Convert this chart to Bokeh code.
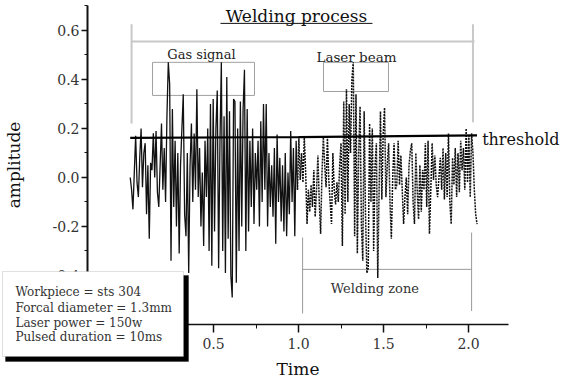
from bokeh.plotting import figure
from bokeh.models import Range1d, FixedTicker, NumeralTickFormatter, Label, BoxAnnotation
from bokeh.embed import file_html
from bokeh.resources import INLINE

# ---------------- data ----------------
SAMPLE_T0 = 0.01      # time of first sample
SAMPLE_DT = 0.008     # sampling interval

gas_amplitude = [
    0.0, -0.05, -0.13, 0.02, 0.17, -0.02, -0.08, 0.08, 0.20, -0.04,
    0.10, 0.14, -0.15, 0.05, -0.25, 0.06, 0.03, 0.18, 0.0, 0.19,
    -0.06, -0.12, 0.05, 0.22, -0.05, 0.12, -0.10, 0.25, 0.47, 0.38,
    -0.34, 0.28, -0.12, 0.15, -0.20, 0.10, -0.31, 0.05, 0.20, 0.34,
    -0.15, -0.24, 0.10, -0.39, 0.05, 0.22, -0.10, 0.18, -0.05, 0.36,
    -0.08, 0.12, -0.20, 0.02, -0.28, 0.15, -0.08, 0.20, -0.30, 0.30,
    -0.36, 0.32, -0.22, 0.20, 0.355, -0.37, 0.15, 0.47, -0.30, 0.25,
    -0.39, 0.41, -0.25, 0.27, -0.40, -0.49, 0.32, 0.31, -0.43, 0.20,
    -0.30, 0.31, -0.20, 0.28, 0.44, -0.30, 0.28, -0.22, 0.15, -0.12,
    0.20, -0.19, 0.10, -0.05, 0.15, -0.20, 0.23, -0.10, 0.30, -0.05,
    0.30, -0.20, 0.10, -0.12, 0.05, -0.16, 0.12, -0.27, 0.175, -0.10,
    0.08, -0.18, 0.05, -0.22, 0.10, -0.24, 0.02, -0.15, 0.19, -0.10,
    0.12, -0.24, 0.15, -0.05,
]

laser_amplitude = [
    0.16, -0.01, 0.10, -0.02, 0.165, 0.02, -0.19, -0.05, -0.14, -0.03,
    -0.12, 0.03, -0.16, -0.05, 0.09, -0.10, -0.23, 0.02, 0.165, 0.05,
    -0.04, 0.165, -0.01, -0.10, -0.19, 0.10, -0.05, -0.11, -0.02, -0.10,
    0.05, 0.14, -0.28, 0.31, -0.15, 0.36, -0.10, 0.30, 0.10, 0.40,
    0.47, -0.24, 0.34, -0.31, 0.10, 0.29, -0.20, -0.34, 0.27, -0.15,
    -0.39, -0.37, 0.22, -0.10, 0.20, -0.30, 0.05, 0.14, -0.41, -0.05,
    0.27, -0.09, 0.18, 0.285, -0.08, 0.05, 0.14, -0.10, -0.25, 0.0,
    0.14, -0.05, -0.03, 0.15, -0.03, 0.09, -0.05, -0.19, -0.08, 0.0,
    -0.15, 0.05, 0.11, 0.14, -0.10, -0.19, 0.10, -0.05, -0.17, 0.05,
    -0.14, 0.03, -0.05, 0.14, -0.12, 0.15, -0.23, -0.05, 0.14, -0.01,
    0.09, -0.03, -0.08, 0.0, 0.08, -0.05, 0.12, -0.09, 0.10, -0.08,
    0.18, -0.10, -0.19, 0.08, -0.03, 0.12, -0.08, 0.10, -0.06, 0.15,
    0.03, 0.12, -0.05, 0.20, -0.02, 0.17, -0.08, 0.18, 0.10, -0.05,
    -0.15, -0.19,
]

threshold_time = [0.01, 1.0, 2.05]
threshold_amp = [0.162, 0.165, 0.172]

x_major_ticks = [0.0, 0.5, 1.0, 1.5, 2.0]
x_minor_ticks = [0.25, 0.75, 1.25, 1.75]
y_major_ticks = [-0.6, -0.4, -0.2, 0.0, 0.2, 0.4, 0.6]
y_minor_ticks = [-0.5, -0.3, -0.1, 0.1, 0.3, 0.5, 0.7]

info_lines = [
    "Workpiece = sts 304",
    "Forcal diameter = 1.3mm",
    "Laser power = 150w",
    "Pulsed duration = 10ms",
]

# ---------------- build ----------------
n_gas = len(gas_amplitude)
gas_time = [SAMPLE_T0 + i * SAMPLE_DT for i in range(n_gas)]
laser_time = [SAMPLE_T0 + (n_gas - 1 + i) * SAMPLE_DT for i in range(len(laser_amplitude) + 1)]
laser_vals = [gas_amplitude[-1]] + laser_amplitude

SERIF = "DejaVu Serif"
X_AXIS_AT = -0.6       # y value where the time axis sits
Y_AXIS_AT = -0.2412    # x value where the amplitude axis sits

p = figure(width=568, height=383, output_backend="svg", toolbar_location=None,
           x_range=Range1d(-0.753, 2.588), y_range=Range1d(-0.8408, 0.7224),
           min_border=0, outline_line_color=None, background_fill_color="white",
           border_fill_color="white")
p.grid.visible = False

xa = p.xaxis[0]
ya = p.yaxis[0]
xa.fixed_location = X_AXIS_AT
ya.fixed_location = Y_AXIS_AT

for ax in (xa, ya):
    ax.axis_line_color = "#111111"
    ax.major_tick_line_color = "#111111"
    ax.minor_tick_line_color = "#111111"
    ax.major_tick_in = 0
    ax.minor_tick_in = 0
    ax.major_label_text_font = SERIF
    ax.major_label_text_font_size = "14px"
    ax.major_label_text_color = "#333333"
    ax.axis_label_text_font = SERIF
    ax.axis_label_text_font_size = "17px"
    ax.axis_label_text_font_style = "normal"
    ax.axis_label_text_color = "#111111"
    ax.formatter = NumeralTickFormatter(format="0.0")

xa.ticker = FixedTicker(ticks=x_major_ticks, minor_ticks=x_minor_ticks)
ya.ticker = FixedTicker(ticks=y_major_ticks, minor_ticks=y_minor_ticks)
xa.bounds = (-0.2412, 2.2353)
ya.bounds = (-0.6, 0.702)
xa.axis_line_width = 1.5
ya.axis_line_width = 2
xa.major_tick_out = 8
xa.minor_tick_out = 4
ya.major_tick_out = 6
ya.minor_tick_out = 3
xa.major_tick_line_width = 1.5
ya.major_tick_line_width = 1.5
xa.major_label_standoff = 5
ya.major_label_standoff = 2
xa.axis_label = "Time"
ya.axis_label = "amplitude"
xa.axis_label_standoff = 7
ya.axis_label_standoff = 26

GREY_L = "#c8c8c8"
GREY = "#a0a0a0"

# welding process bracket
p.segment(x0=[0.018, 0.018, 2.026], y0=[0.555, 0.625, 0.625],
          x1=[2.035, 0.018, 2.026], y1=[0.555, 0.22, 0.225],
          line_color=GREY_L, line_width=2)
# title underline
p.segment(x0=[0.541], y0=[0.629], x1=[1.435], y1=[0.629], line_color="#111111", line_width=1)

# boxes around gas signal and laser beam
p.quad(left=[0.141, 1.147], right=[0.741, 1.529], bottom=[0.335, 0.351], top=[0.47, 0.47],
       fill_color=None, line_color=GREY, line_width=1)

# welding zone bracket
p.segment(x0=[1.024, 2.018, 1.024], y0=[-0.245, -0.225, -0.375],
          x1=[1.024, 2.018, 2.018], y1=[-0.555, -0.545, -0.375],
          line_color="#999999", line_width=1)

# signal
p.line(gas_time, gas_amplitude, line_color="#111111", line_width=1.3)
p.line(laser_time, laser_vals, line_color="#111111", line_width=1.5, line_dash="2 1")

# threshold
p.line(threshold_time, threshold_amp, line_color="#000000", line_width=2.2)

def lab(x, y, text, size, align="left", color="#222222", level="annotation"):
    p.add_layout(Label(x=x, y=y, text=text, text_align=align, text_baseline="middle",
                       text_font=SERIF, text_font_size=size, text_color=color, level=level))

lab(0.988, 0.661, "Welding process", "17px", "center", "#111111")
lab(0.429, 0.50, "Gas signal", "13px", "center")
lab(1.341, 0.49, "Laser beam", "13.5px", "center")
lab(2.08, 0.155, "threshold", "16px", "left", "#111111")
lab(1.449, -0.453, "Welding zone", "13px", "center", "#333333")

# info box with shadow
p.add_layout(BoxAnnotation(left=-0.7235, right=0.353, top=-0.40, bottom=-0.751,
                           fill_color="black", fill_alpha=1.0, line_color="black", level="overlay"))
p.add_layout(BoxAnnotation(left=-0.7412, right=0.3235, top=-0.3837, bottom=-0.7306,
                           fill_color="white", fill_alpha=1.0, line_color="#999999",
                           line_width=1, level="overlay"))
for txt, yy in zip(info_lines, [-0.469, -0.531, -0.592, -0.653]):
    lab(-0.665, yy, txt, "12px", "left", "#333333", level="overlay")

open("out.html", "w").write(file_html(p, INLINE))
